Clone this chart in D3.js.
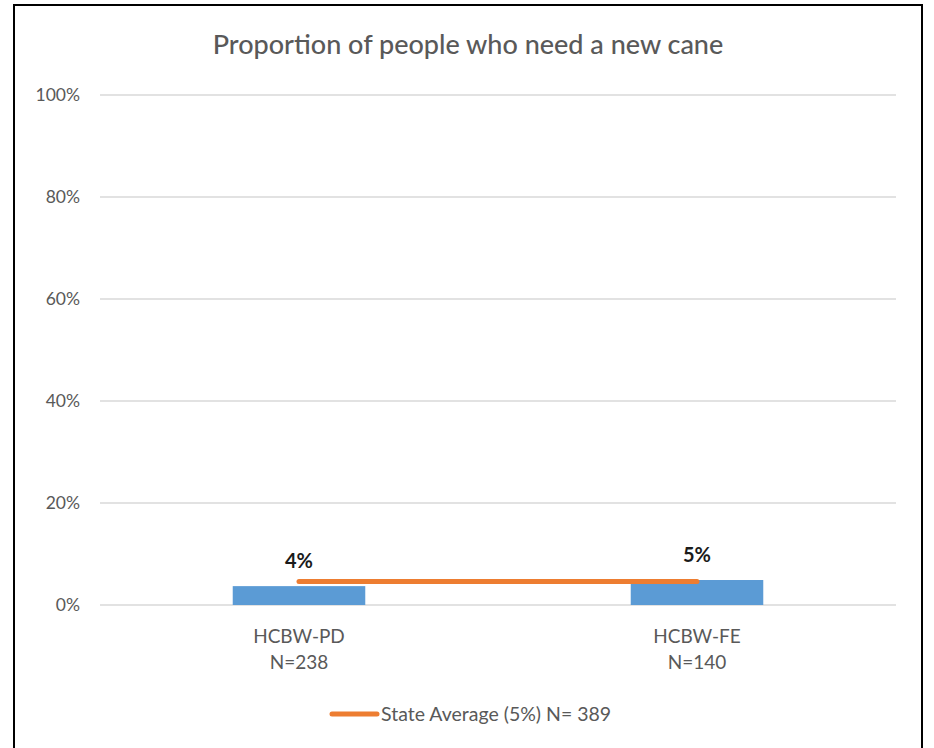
<!DOCTYPE html>
<html>
<head>
<meta charset="utf-8">
<script src="https://cdn.jsdelivr.net/npm/d3@7"></script>
<style>
  html, body { margin: 0; padding: 0; background: #fff; }
  svg { display: block; }
  text { font-family: Lato, "Open Sans", sans-serif; }
</style>
</head>
<body>
<svg id="chart" width="934" height="748"></svg>
<script>
const title = "Proportion of people who need a new cane";
const categories = ["HCBW-PD", "HCBW-FE"];
const categoryN = ["N=238", "N=140"];
const barValues = [0.037, 0.049];
const barLabels = ["4%", "5%"];
const stateAverage = [0.046, 0.046];
const legendLabel = "State Average (5%) N= 389";
const yTicks = [0, 0.2, 0.4, 0.6, 0.8, 1.0];

const svg = d3.select("#chart");
const W = 934, H = 748;
const margin = { left: 100, right: 38, top: 95, bottom: 143 };

svg.append("rect").attr("x", 0).attr("y", 0).attr("width", W).attr("height", H).attr("fill", "#fff");
// frame
svg.append("rect").attr("x", 14).attr("y", 5).attr("width", 908).attr("height", 760)
  .attr("fill", "none").attr("stroke", "#000").attr("stroke-width", 2);

const x = d3.scaleBand().domain(categories).range([margin.left, W - margin.right]).padding(0);
const y = d3.scaleLinear().domain([0, 1]).range([H - margin.bottom, margin.top]);

// gridlines
svg.append("g").selectAll("line").data(yTicks).join("line")
  .attr("x1", margin.left).attr("x2", W - margin.right)
  .attr("y1", d => y(d)).attr("y2", d => y(d))
  .attr("stroke", "#D9D9D9").attr("stroke-width", 1.5);

// y axis labels
const yAxis = d3.axisLeft(y).tickValues(yTicks).tickFormat(d3.format(".0%")).tickSize(0).tickPadding(20);
const ga = svg.append("g").attr("transform", `translate(${margin.left},0)`).call(yAxis);
ga.select(".domain").remove();
ga.selectAll("text").attr("fill", "#595959").style("font-size", "17.5px").style("font-family", "Lato, sans-serif");

// bars
const bw = x.bandwidth() * 0.333;
svg.append("g").selectAll("rect").data(barValues).join("rect")
  .attr("x", (d, i) => x(categories[i]) + x.bandwidth() / 2 - bw / 2)
  .attr("width", bw)
  .attr("y", d => y(d))
  .attr("height", d => y(0) - y(d))
  .attr("fill", "#5B9BD5");

// bar labels
svg.append("g").selectAll("text").data(barValues).join("text")
  .attr("x", (d, i) => x(categories[i]) + x.bandwidth() / 2)
  .attr("y", d => y(d) - 18)
  .attr("text-anchor", "middle")
  .attr("fill", "#1a1a1a")
  .style("font-size", "20px").style("font-weight", "bold")
  .text((d, i) => barLabels[i]);

// state average line
const line = d3.line()
  .x((d, i) => x(categories[i]) + x.bandwidth() / 2)
  .y(d => y(d));
svg.append("path").datum(stateAverage)
  .attr("d", line)
  .attr("fill", "none").attr("stroke", "#ED7D31").attr("stroke-width", 5).attr("stroke-linecap", "round");

// category labels
const cl = svg.append("g").selectAll("text").data(categories).join("text")
  .attr("x", d => x(d) + x.bandwidth() / 2)
  .attr("text-anchor", "middle")
  .attr("fill", "#595959")
  .style("font-size", "19px");
cl.append("tspan").attr("x", d => x(d) + x.bandwidth() / 2).attr("y", 643).text(d => d);
cl.append("tspan").attr("x", d => x(d) + x.bandwidth() / 2).attr("y", 669).text((d, i) => categoryN[i]);

// title
svg.append("text").attr("x", 468).attr("y", 54).attr("text-anchor", "middle")
  .attr("fill", "#595959").style("font-size", "27px").style("font-weight", "500").text(title);

// legend
svg.append("line").attr("x1", 332).attr("x2", 377).attr("y1", 714).attr("y2", 714)
  .attr("stroke", "#ED7D31").attr("stroke-width", 5).attr("stroke-linecap", "round");
svg.append("text").attr("x", 381).attr("y", 721).attr("fill", "#595959")
  .style("font-size", "19.5px").text(legendLabel);
</script>
</body>
</html>
